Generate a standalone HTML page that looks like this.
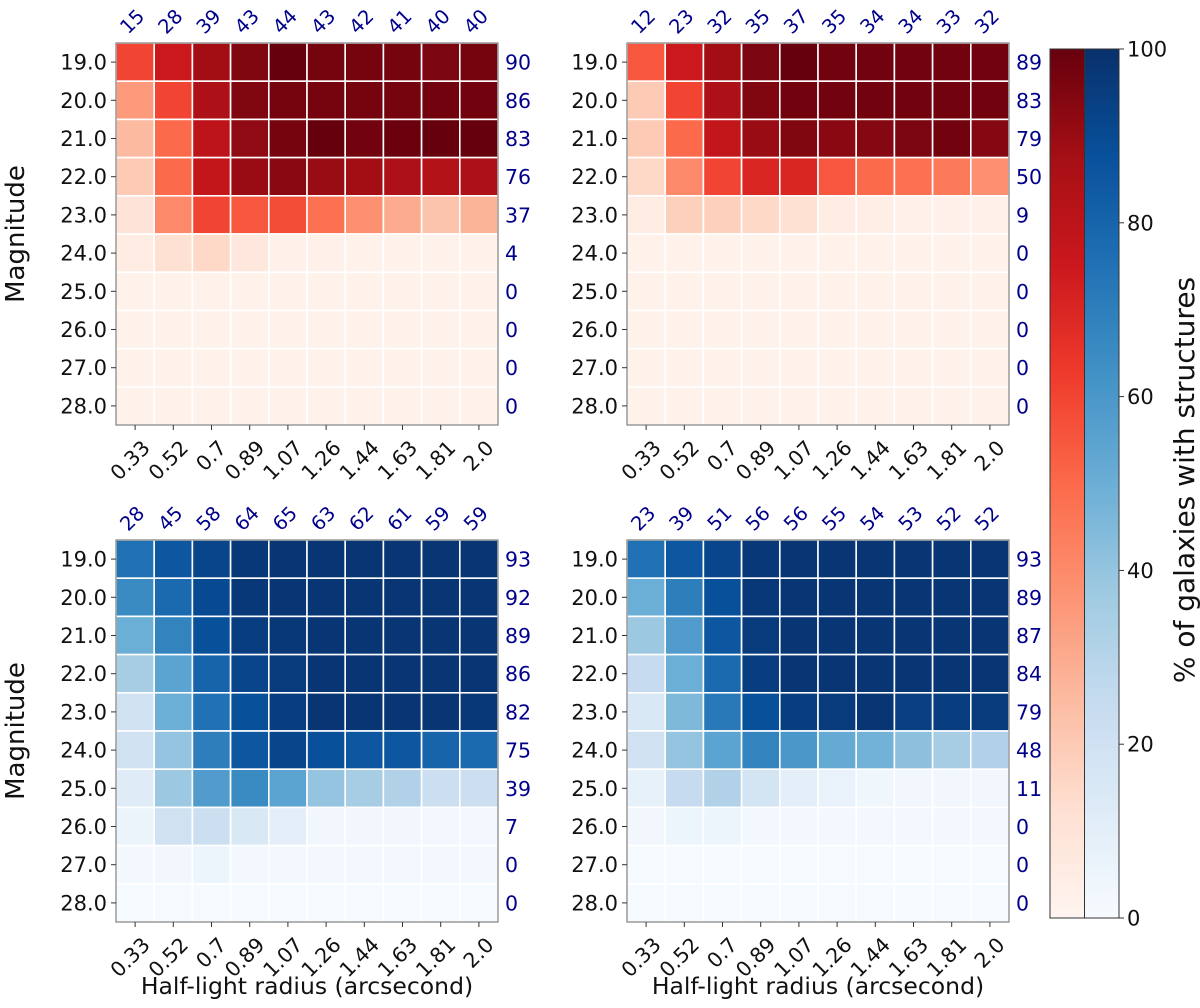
<!DOCTYPE html>
<html><head><meta charset="utf-8"><style>
body{margin:0;background:#fff;}
svg{display:block;font-family:"DejaVu Sans","Liberation Sans",sans-serif;}
</style></head><body>
<svg id="fig" width="1200" height="1008" viewBox="0 0 1200 1008" xmlns="http://www.w3.org/2000/svg">
<defs>
<linearGradient id="gR" x1="0" y1="1" x2="0" y2="0">
<stop offset="0" stop-color="#fff5f0"/><stop offset="0.125" stop-color="#fee0d2"/><stop offset="0.25" stop-color="#fcbba1"/><stop offset="0.375" stop-color="#fc9272"/><stop offset="0.5" stop-color="#fb6a4a"/><stop offset="0.625" stop-color="#ef3b2c"/><stop offset="0.75" stop-color="#cb181d"/><stop offset="0.875" stop-color="#a50f15"/><stop offset="1" stop-color="#67000d"/>
</linearGradient>
<linearGradient id="gB" x1="0" y1="1" x2="0" y2="0">
<stop offset="0" stop-color="#f7fbff"/><stop offset="0.125" stop-color="#deebf7"/><stop offset="0.25" stop-color="#c6dbef"/><stop offset="0.375" stop-color="#9ecae1"/><stop offset="0.5" stop-color="#6baed6"/><stop offset="0.625" stop-color="#4292c6"/><stop offset="0.75" stop-color="#2171b5"/><stop offset="0.875" stop-color="#08519c"/><stop offset="1" stop-color="#08306b"/>
</linearGradient>
</defs>
</svg>
<script>
const radii = ["0.33","0.52","0.7","0.89","1.07","1.26","1.44","1.63","1.81","2.0"];
const mags = ["19.0","20.0","21.0","22.0","23.0","24.0","25.0","26.0","27.0","28.0"];
const cbTicks = [0,20,40,60,80,100];

const topLeftValues = [
[60,75,88,95,100,97,97,97,96,97],
[35,60,85,95,97,97,97,97,98,98],
[25,50,80,92,97,100,98,99,100,100],
[20,50,78,90,93,90,88,85,83,85],
[10,40,60,55,58,48,38,30,22,27],
[5,12,15,8,3,3,2,2,2,2],
[2,2,2,2,2,2,2,2,2,2],
[2,2,2,2,2,2,2,2,2,2],
[2,2,2,2,2,2,2,2,2,2],
[2,2,2,2,2,2,2,2,2,2]];
const topLeftColCounts = [15,28,39,43,44,43,42,41,40,40];
const topLeftRowCounts = [90,86,83,76,37,4,0,0,0,0];

const topRightValues = [
[55,75,88,96,100,98,98,98,98,98],
[20,60,85,95,98,98,98,98,98,98],
[20,50,78,90,95,93,94,96,98,94],
[15,40,60,70,70,55,50,48,45,38],
[5,18,18,15,12,5,4,3,3,3],
[2,2,2,2,2,2,2,2,2,2],
[2,2,2,2,2,2,2,2,2,2],
[2,2,2,2,2,2,2,2,2,2],
[2,2,2,2,2,2,2,2,2,2],
[2,2,2,2,2,2,2,2,2,2]];
const topRightColCounts = [12,23,32,35,37,35,34,34,33,32];
const topRightRowCounts = [89,83,79,50,9,0,0,0,0,0];

const bottomLeftValues = [
[75,85,92,97,98,98,98,98,98,98],
[65,78,90,97,98,98,98,98,98,98],
[50,68,88,95,97,98,98,98,98,98],
[35,55,80,92,96,98,98,98,98,98],
[20,50,75,88,95,98,98,98,98,97],
[20,40,70,85,92,88,85,85,80,78],
[12,38,58,65,55,40,35,32,22,22],
[6,20,22,15,10,3,3,3,2,2],
[2,3,5,2,2,2,2,2,2,2],
[1,1,1,1,1,1,1,1,1,1]];
const bottomLeftColCounts = [28,45,58,64,65,63,62,61,59,59];
const bottomLeftRowCounts = [93,92,89,86,82,75,39,7,0,0];

const bottomRightValues = [
[75,85,92,97,98,98,98,98,98,98],
[50,70,88,97,98,98,98,98,98,98],
[38,58,85,96,98,98,98,98,98,98],
[25,50,78,95,98,98,98,98,98,98],
[15,45,72,88,95,96,98,94,95,96],
[20,40,55,68,60,52,48,42,35,32],
[8,25,32,18,10,7,4,3,3,3],
[3,5,5,2,2,2,2,2,2,2],
[1,1,1,1,1,1,1,1,1,1],
[1,1,1,1,1,1,1,1,1,1]];
const bottomRightColCounts = [23,39,51,56,56,55,54,53,52,52];
const bottomRightRowCounts = [93,89,87,84,79,48,11,0,0,0];

const REDS=["#fff5f0","#fee0d2","#fcbba1","#fc9272","#fb6a4a","#ef3b2c","#cb181d","#a50f15","#67000d"];
const BLUES=["#f7fbff","#deebf7","#c6dbef","#9ecae1","#6baed6","#4292c6","#2171b5","#08519c","#08306b"];
function hex(c){return [1,3,5].map(i=>parseInt(c.substr(i,2),16));}
function cmap(stops,v){
  let t=Math.max(0,Math.min(1,v/100))*(stops.length-1);
  let i=Math.min(stops.length-2,Math.floor(t)),f=t-i;
  let a=hex(stops[i]),b=hex(stops[i+1]);
  return "rgb("+a.map((x,k)=>Math.round(x+(b[k]-x)*f)).join(",")+")";
}
const NS="http://www.w3.org/2000/svg";
const svg=document.getElementById("fig");
function mk(tag,attrs,parent,text){
  const e=document.createElementNS(NS,tag);
  for(const k in attrs)e.setAttribute(k,attrs[k]);
  if(text!==undefined)e.textContent=text;
  (parent||svg).appendChild(e);return e;
}
const W=382,H=382;
function panel(name,x0,y0,vals,colCounts,rowCounts,stops,showY,showX){
  const g=mk("g",{});
  
  
  const cw=W/radii.length,ch=H/mags.length;
  const xs=i=>x0+i*cw, ys=j=>y0+j*ch;
  vals.forEach((row,j)=>row.forEach((v,i)=>{
    const r=mk("rect",{x:xs(i),y:ys(j),width:cw,height:ch,fill:cmap(stops,v),stroke:"#fff","stroke-width":1.6},g);
    
    
  }));
  const fr=mk("rect",{x:x0,y:y0,width:W,height:H,fill:"none",stroke:"#808080","stroke-width":1.2},g);
  
  
  mags.forEach((m,j)=>{
    const cy=ys(j)+ch/2;
    mk("line",{x1:x0-5,y1:cy,x2:x0,y2:cy,stroke:"#333","stroke-width":1},g);
    const t=mk("text",{x:x0-9,y:cy+7.5,"text-anchor":"end","font-size":21,fill:"#111"},g,m);
    
    
    const rc=mk("text",{x:x0+W+7,y:cy+7.5,"font-size":20.5,fill:"#00008b"},g,String(rowCounts[j]));
    
    
  });
  radii.forEach((r,i)=>{
    const cx=xs(i)+cw/2;
    mk("line",{x1:cx,y1:y0+H,x2:cx,y2:y0+H+5,stroke:"#333","stroke-width":1},g);
    const t=mk("text",{x:cx+6,y:y0+H+14,"text-anchor":"end","font-size":20.5,fill:"#111",transform:"rotate(-45 "+(cx+6)+" "+(y0+H+14)+")",dy:"0.7em"},g,r);
    
    
    const cc=mk("text",{x:cx-7,y:y0-8,"font-size":19.5,fill:"#00008b",transform:"rotate(-45 "+(cx-7)+" "+(y0-8)+")"},g,String(colCounts[i]));
    
    
  });
  if(showY){
    const yl=mk("text",{x:24,y:y0+H/2,"text-anchor":"middle","font-size":26,fill:"#111",transform:"rotate(-90 24 "+(y0+H/2)+")"},g,"Magnitude");
    
    
  }
  if(showX){
    const xl=mk("text",{x:x0+W/2,y:994,"text-anchor":"middle","font-size":23.5,fill:"#111"},g,"Half-light radius (arcsecond)");
    
    
  }
}
panel("heatmap-top-left",116,43,topLeftValues,topLeftColCounts,topLeftRowCounts,REDS,true,false);
panel("heatmap-top-right",627,43,topRightValues,topRightColCounts,topRightRowCounts,REDS,false,false);
panel("heatmap-bottom-left",116,540,bottomLeftValues,bottomLeftColCounts,bottomLeftRowCounts,BLUES,true,true);
panel("heatmap-bottom-right",627,540,bottomRightValues,bottomRightColCounts,bottomRightRowCounts,BLUES,false,true);

const cbX=1050,cbY=49,cbH=869,cbW=69;
const cg=mk("g",{});


mk("rect",{x:cbX,y:cbY,width:cbW/2,height:cbH,fill:"url(#gR)"},cg);
mk("rect",{x:cbX+cbW/2,y:cbY,width:cbW/2,height:cbH,fill:"url(#gB)"},cg);
mk("line",{x1:cbX+cbW/2,y1:cbY,x2:cbX+cbW/2,y2:cbY+cbH,stroke:"#333","stroke-width":1},cg);
mk("rect",{x:cbX,y:cbY,width:cbW,height:cbH,fill:"none",stroke:"#333","stroke-width":1},cg);
const cbScale=v=>cbY+cbH-(v/100)*cbH;
cbTicks.forEach(v=>{
  const y=cbScale(v);
  mk("line",{x1:cbX+cbW,y1:y,x2:cbX+cbW+5,y2:y,stroke:"#333","stroke-width":1},cg);
  const t=mk("text",{x:cbX+cbW+8,y:y+7.5,"font-size":21,fill:"#111"},cg,String(v));
  
  
});
const cl=mk("text",{x:1194,y:480,"text-anchor":"middle","font-size":28,fill:"#111",transform:"rotate(-90 1194 480)"},cg,"% of galaxies with structures");


</script>
</body></html>
